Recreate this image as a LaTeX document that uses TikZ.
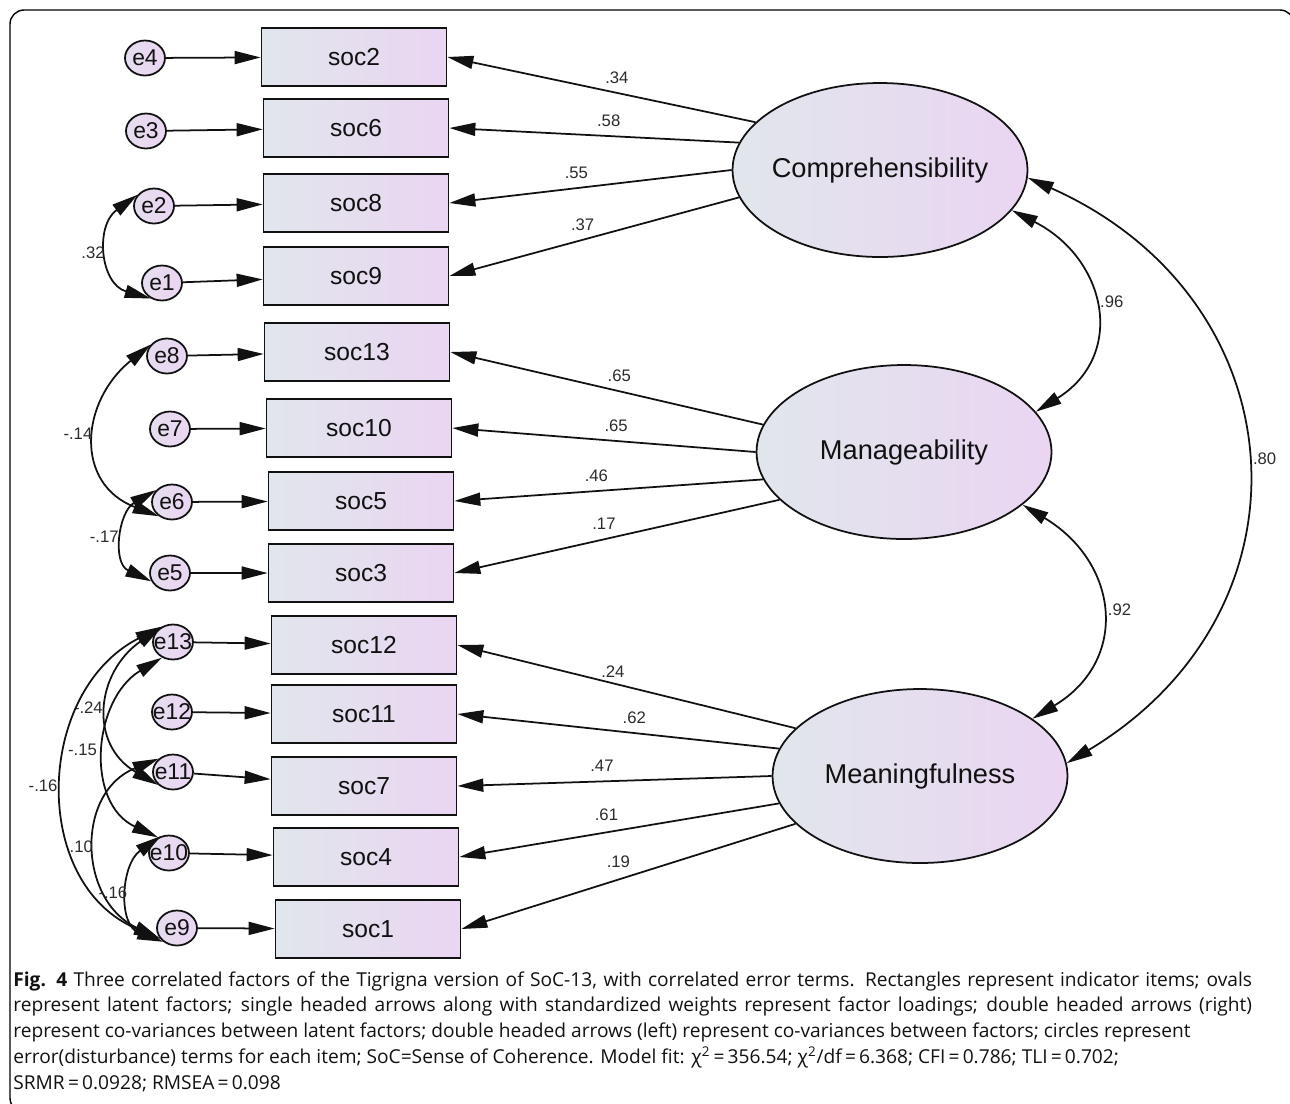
\documentclass[tikz,border=0pt]{standalone}
\usepackage{fontspec}
\setmainfont{Liberation Sans}
\newfontfamily\capfont{Open Sans}
\usepackage{tikz}
\usetikzlibrary{positioning, arrows.meta, shapes.geometric}
\usepackage{xcolor}
\definecolor{socLeft}{HTML}{E1E6EC}
\definecolor{socRight}{HTML}{EAD5F2}
\definecolor{socInk}{HTML}{111111}
\definecolor{socLabel}{HTML}{2B2B2B}

\begin{document}
\begin{tikzpicture}[x=0.02cm, y=0.02cm,
    item/.style={
      rectangle, draw=socInk, line width=1pt,
      left color=socLeft, right color=socRight,
      minimum width=3.7cm, minimum height=1.16cm,
      text=socInk, font=\fontsize{14}{16}\selectfont
    },
    latent/.style={
      ellipse, draw=socInk, line width=1pt,
      left color=socLeft, right color=socRight,
      minimum width=5.9cm, minimum height=3.48cm,
      inner xsep=-8pt, inner ysep=0pt,
      text=socInk, font=\fontsize{15.5}{18}\selectfont
    },
    err/.style={
      ellipse, draw=socInk, line width=1pt,
      left color=socLeft!50!socRight, right color=socRight,
      minimum width=0.8cm, minimum height=0.7cm,
      inner xsep=-4pt, inner ysep=0pt,
      text=socInk, font=\fontsize{13}{15}\selectfont
    },
    load/.style={draw=socInk, line width=1pt,
      -{Triangle[length=0.52cm, width=0.26cm]}},
    cov/.style={draw=socInk, line width=1pt,
      {Triangle[length=0.52cm, width=0.26cm]}-{Triangle[length=0.52cm, width=0.26cm]}},
    lbl/.style={font=\fontsize{9.5}{11}\selectfont, text=socLabel, inner sep=1pt}
  ]
  \useasboundingbox (0,0) rectangle (1290,-1103);
  % Marco de la figura
  \draw[line width=0.8pt, rounded corners=8pt] (10,-10) rectangle (1294,-1112);

  % Items observados
  \node[item] (soc2) at (354,-57) {soc2};
  \node[item] (soc6) at (356,-128) {soc6};
  \node[item] (soc8) at (356,-203) {soc8};
  \node[item] (soc9) at (356,-276) {soc9};
  \node[item] (soc13) at (357,-352) {soc13};
  \node[item] (soc10) at (359,-428) {soc10};
  \node[item] (soc5) at (361,-501) {soc5};
  \node[item] (soc3) at (361,-573) {soc3};
  \node[item] (soc12) at (364,-645) {soc12};
  \node[item] (soc11) at (364,-714) {soc11};
  \node[item] (soc7) at (364,-786) {soc7};
  \node[item] (soc4) at (366,-857) {soc4};
  \node[item] (soc1) at (368,-929) {soc1};

  % Terminos de error
  \node[err] (e4) at (145,-58) {e4};
  \node[err] (e3) at (146,-131) {e3};
  \node[err] (e2) at (154,-206) {e2};
  \node[err] (e1) at (162,-283) {e1};
  \node[err] (e8) at (167,-356) {e8};
  \node[err] (e7) at (170,-429) {e7};
  \node[err] (e6) at (172,-502) {e6};
  \node[err] (e5) at (170,-573) {e5};
  \node[err] (e13) at (173,-642) {e13};
  \node[err] (e12) at (172,-712) {e12};
  \node[err] (e11) at (173,-772) {e11};
  \node[err] (e10) at (169,-853) {e10};
  \node[err] (e9) at (177,-928) {e9};

  % Factores latentes
  \node[latent] (comp) at (880,-170) {Comprehensibility};
  \node[latent] (manage) at (904,-452) {Manageability};
  \node[latent] (mean) at (920,-776) {Meaningfulness};

  % Error -> item
  \draw[load] (e4) -- (soc2);
  \draw[load] (e3) -- (soc6);
  \draw[load] (e2) -- (soc8);
  \draw[load] (e1) -- (soc9);
  \draw[load] (e8) -- (soc13);
  \draw[load] (e7) -- (soc10);
  \draw[load] (e6) -- (soc5);
  \draw[load] (e5) -- (soc3);
  \draw[load] (e13) -- (soc12);
  \draw[load] (e12) -- (soc11);
  \draw[load] (e11) -- (soc7);
  \draw[load] (e10) -- (soc4);
  \draw[load] (e9) -- (soc1);

  % Cargas factoriales
  \draw[load] (comp.159) -- (soc2.east) node[lbl, pos=.45, above=4pt] {.34};
  \draw[load] (comp.169) -- (soc6.east) node[lbl, pos=.45, above=4pt] {.58};
  \draw[load] (comp.180) -- (soc8.east) node[lbl, pos=.55, above=4pt] {.55};
  \draw[load] (comp.191) -- (soc9.east) node[lbl, pos=.54, above=4pt] {.37};
  \draw[load] (manage.169) -- (soc13.east) node[lbl, pos=.46, above=4pt] {.65};
  \draw[load] (manage.180) -- (soc10.east) node[lbl, pos=.46, above=4pt] {.65};
  \draw[load] (manage.191) -- (soc5.east) node[lbl, pos=.54, above=4pt] {.46};
  \draw[load] (manage.201) -- (soc3.east) node[lbl, pos=.54, above=4pt] {.17};
  \draw[load] (mean.159) -- (soc12.east) node[lbl, pos=.54, above=2pt] {.24};
  \draw[load] (mean.169) -- (soc11.east) node[lbl, pos=.45, above=4pt] {.62};
  \draw[load] (mean.180) -- (soc7.east) node[lbl, pos=.54, above=4pt] {.47};
  \draw[load] (mean.191) -- (soc4.east) node[lbl, pos=.54, above=5pt] {.61};
  \draw[load] (mean.201) -- (soc1.east) node[lbl, pos=.53, above=5pt] {.19};

  % Covarianzas entre factores
  \draw[cov] (comp.343) to[out=-27, in=32, looseness=1.35]
    node[lbl, pos=.47, right=3pt] {.96} (manage.17);
  \draw[cov] (manage.336) to[out=-31, in=31, looseness=1.35]
    node[lbl, pos=.49, right=3pt] {.92} (mean.27);
  \draw[cov] (comp.357) to[out=-24, in=31, looseness=1.3]
    node[lbl, pos=.5, right=3pt] {.80} (mean.5);

  % Covarianzas entre errores
  \draw[cov] (e2.146) to[out=216, in=164, looseness=1.29]
    node[lbl, left=1pt] {.32} (e1.234);
  \draw[cov] (e8.145) to[out=219, in=159, looseness=1.35]
    node[lbl, pos=.47, left=1pt] {-.14} (e6.227);
  \draw[cov] (e6.143) to[out=210, in=155, looseness=1.22]
    node[lbl, left=2pt] {-.17} (e5.204);
  \draw[cov] (e13.127) to[out=215, in=150, looseness=1.3]
    node[lbl, left=2pt] {-.24} (e11.221);
  \draw[cov] (e13.235) to[out=211, in=155, looseness=1.15]
    node[lbl, left=4pt] {-.15} (e10.125);
  \draw[cov] (e13.127) to[out=207, in=157, looseness=1.16]
    node[lbl, left=2.5pt] {-.16} (e9.212);
  \draw[cov] (e11.137) to[out=202, in=155, looseness=1.28]
    node[lbl, left=1pt] {.10} (e9.212);
  \draw[cov] (e10.115) to[out=215, in=160, looseness=1.18]
    node[lbl, left=0pt] {-.16} (e9.225);

  % Pie de figura
  \node[anchor=north west, inner sep=0pt, text width=24.78cm, align=justify,
        font=\capfont\fontsize{10.9}{14.7}\selectfont, text=socInk]
    (cap) at (13,-971) {{\bfseries Fig. 4} Three correlated factors of the Tigrigna version of SoC-13, with correlated error terms. Rectangles represent indicator items; ovals\linebreak
    represent latent factors; single headed arrows along with standardized weights represent factor loadings; double headed arrows (right)\linebreak
    represent co-variances between latent factors; double headed arrows (left) represent co-variances between factors; circles represent\newline
    error(disturbance) terms for each item; SoC=Sense of Coherence. Model fit: χ\textsuperscript{2}\,=\,356.54; χ\textsuperscript{2}/df\,=\,6.368; CFI\,=\,0.786; TLI\,=\,0.702;\newline
    SRMR\,=\,0.0928; RMSEA\,=\,0.098};
\end{tikzpicture}
\end{document}
